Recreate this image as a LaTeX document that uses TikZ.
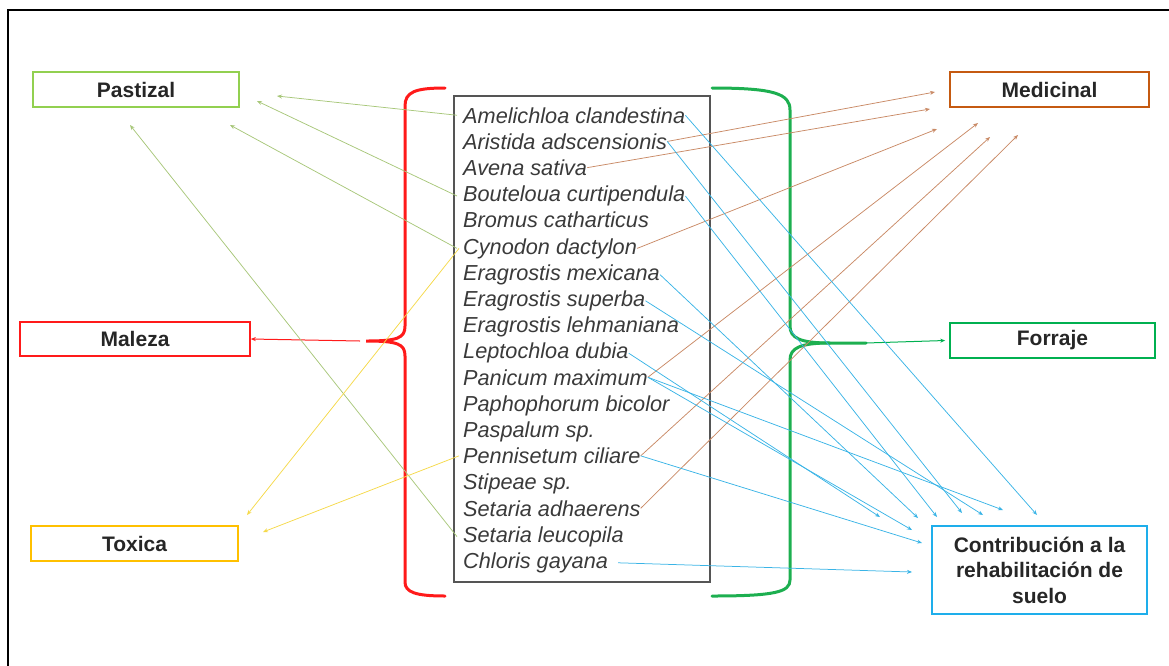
\documentclass[tikz,border=0pt]{standalone}
\usepackage{fontspec}
\setmainfont{Liberation Sans}
\usetikzlibrary{arrows.meta}
\definecolor{pastG}{HTML}{92D050}
\definecolor{pastL}{HTML}{A8C77A}
\definecolor{malR}{HTML}{FF1A1A}
\definecolor{toxY}{HTML}{FFC000}
\definecolor{toxL}{HTML}{F5D94A}
\definecolor{medB}{HTML}{C55A11}
\definecolor{medL}{HTML}{C98A66}
\definecolor{forG}{HTML}{00B050}
\definecolor{braceG}{HTML}{1DAF50}
\definecolor{conB}{HTML}{1EAEEB}
\definecolor{conL}{HTML}{3AB4E6}
\definecolor{spgray}{HTML}{3A3A3A}
\definecolor{boxgray}{HTML}{555555}
\tikzset{
  lab/.style={draw, line width=1.6pt, inner sep=0pt, align=center,
    font=\bfseries\fontsize{21}{25.5}\selectfont, text=black!85},
  sp/.style={anchor=base west, inner sep=0pt,
    font=\itshape\fontsize{21.7}{24}\selectfont, text=spgray},
  conn/.style={line width=0.75pt, -{Stealth[length=5pt,width=4pt]}},
  brc/.style={line width=3pt, line cap=round},
}
\begin{document}
\begin{tikzpicture}[x=1pt,y=-1pt]
\useasboundingbox (0,0) rectangle (1169,665);
% outer frame
\draw[line width=1.5pt, black] (8,680) -- (8,10) -- (1180,10);

% category boxes
\node[lab, draw=pastG, minimum width=206pt, minimum height=35pt] (past) at (136,89.5) {Pastizal};
\node[lab, draw=malR, minimum width=230pt, minimum height=34pt] (mal) at (135,339) {Maleza};
\node[lab, draw=toxY, minimum width=207pt, minimum height=35pt] (tox) at (134.5,543.5) {Toxica};
\node[lab, draw=medB, minimum width=199pt, minimum height=35pt] (med) at (1049.5,89.5) {Medicinal};
\node[lab, draw=forG, minimum width=205pt, minimum height=35pt] (for) at (1052.5,340.5) {Forraje};
\node[lab, draw=conB, minimum width=215pt, minimum height=88pt] (con) at (1039.5,570) {Contribución a la\\rehabilitación de\\suelo};

% species box
\node[draw=boxgray, line width=2.2pt, minimum width=256pt, minimum height=486pt, inner sep=0pt] (list) at (582,339) {};

\node[sp] (s1) at (463,123.0) {Amelichloa clandestina};
\node[sp] (s2) at (463,149.2) {Aristida adscensionis};
\node[sp] (s3) at (463,175.4) {Avena sativa};
\node[sp] (s4) at (463,201.6) {Bouteloua curtipendula};
\node[sp] (s5) at (463,227.8) {Bromus catharticus};
\node[sp] (s6) at (463,254.0) {Cynodon dactylon};
\node[sp] (s7) at (463,280.2) {Eragrostis mexicana};
\node[sp] (s8) at (463,306.4) {Eragrostis superba};
\node[sp] (s9) at (463,332.6) {Eragrostis lehmaniana};
\node[sp] (s10) at (463,358.8) {Leptochloa dubia};
\node[sp] (s11) at (463,385.0) {Panicum maximum};
\node[sp] (s12) at (463,411.2) {Paphophorum bicolor};
\node[sp] (s13) at (463,437.4) {Paspalum sp.};
\node[sp] (s14) at (463,463.6) {Pennisetum ciliare};
\node[sp] (s15) at (463,489.8) {Stipeae sp.};
\node[sp] (s16) at (463,516.0) {Setaria adhaerens};
\node[sp] (s17) at (463,542.2) {Setaria leucopila};
\node[sp] (s18) at (463,568.4) {Chloris gayana};

% braces
\coordinate (rtip) at (366,341);
\coordinate (gtip) at (866,343);
\draw[brc, malR] (445,88) .. controls (415,88) and (405,92) .. (405,106) -- (405,326)
  .. controls (405,338) and (398,341) .. (rtip)
  .. controls (398,341) and (405,344) .. (405,356) -- (405,582)
  .. controls (405,592) and (415,596) .. (445,596);
\draw[brc, braceG] (712,88) .. controls (775,88) and (790,94) .. (790,110) -- (790,326)
  .. controls (790,338) and (800,343) .. (830,343) -- (gtip);
\draw[brc, braceG] (830,343) .. controls (800,343) and (790,348) .. (790,360) -- (790,580)
  .. controls (790,592) and (775,596) .. (712,596);

% target points
\coordinate (pa) at (277,96);
\coordinate (pb) at (257,101);
\coordinate (pc) at (230,125);
\coordinate (pd) at (130,125);
\coordinate (ta) at (247,515);
\coordinate (tb) at (263,532);
\coordinate (ma) at (935,92);
\coordinate (mb) at (930,109);
\coordinate (mc) at (937,129);
\coordinate (md) at (978,123);
\coordinate (me) at (990,137);
\coordinate (mf) at (1018,135);
\coordinate (ca) at (880,517);
\coordinate (cb) at (918,518);
\coordinate (cc) at (937,517);
\coordinate (cd) at (962,513);
\coordinate (ce) at (983,515);
\coordinate (cf) at (1003,510);
\coordinate (cg) at (1037,515);
\coordinate (ch) at (912,530);
\coordinate (ci) at (922,543);
\coordinate (cj) at (912,572);

% red and green single arrows
\draw[conn, malR, line width=1pt] (rtip) ++(-6,0) -- (mal.east);
\draw[conn, forG, line width=1pt] (gtip) -- ([xshift=-4pt]for.west);

% Pastizal (green)
\draw[conn, pastL] ([xshift=-6pt]s1.west) -- (pa);
\draw[conn, pastL] ([xshift=-6pt]s4.west) -- (pb);
\draw[conn, pastL] ([xshift=-6pt]s6.west) -- (pc);
\draw[conn, pastL] ([xshift=-6pt]s17.west) -- (pd);

% Toxica (yellow)
\draw[conn, toxL] ([xshift=-4pt]s6.west) -- (ta);
\draw[conn, toxL] ([xshift=-4pt]s14.west) -- (tb);

% Medicinal (brown)
\draw[conn, medL] (s2.east) -- (ma);
\draw[conn, medL] (s3.east) -- (mb);
\draw[conn, medL] (s6.east) -- (mc);
\draw[conn, medL] (s11.east) -- (md);
\draw[conn, medL] (s14.east) -- (me);
\draw[conn, medL] (s16.east) -- (mf);

% Contribucion (blue)
\draw[conn, conL] (s1.east) -- (cg);
\draw[conn, conL] (s2.east) -- (cd);
\draw[conn, conL] (s4.east) -- (cc);
\draw[conn, conL] (s7.east) -- (cb);
\draw[conn, conL] (s8.east) -- (ce);
\draw[conn, conL] (s10.east) -- (ca);
\draw[conn, conL] (s11.east) -- (cf);
\draw[conn, conL] (s11.east) -- (ch);
\draw[conn, conL] (s14.east) -- (ci);
\draw[conn, conL] ([xshift=10pt]s18.east) -- (cj);
\end{tikzpicture}
\end{document}
